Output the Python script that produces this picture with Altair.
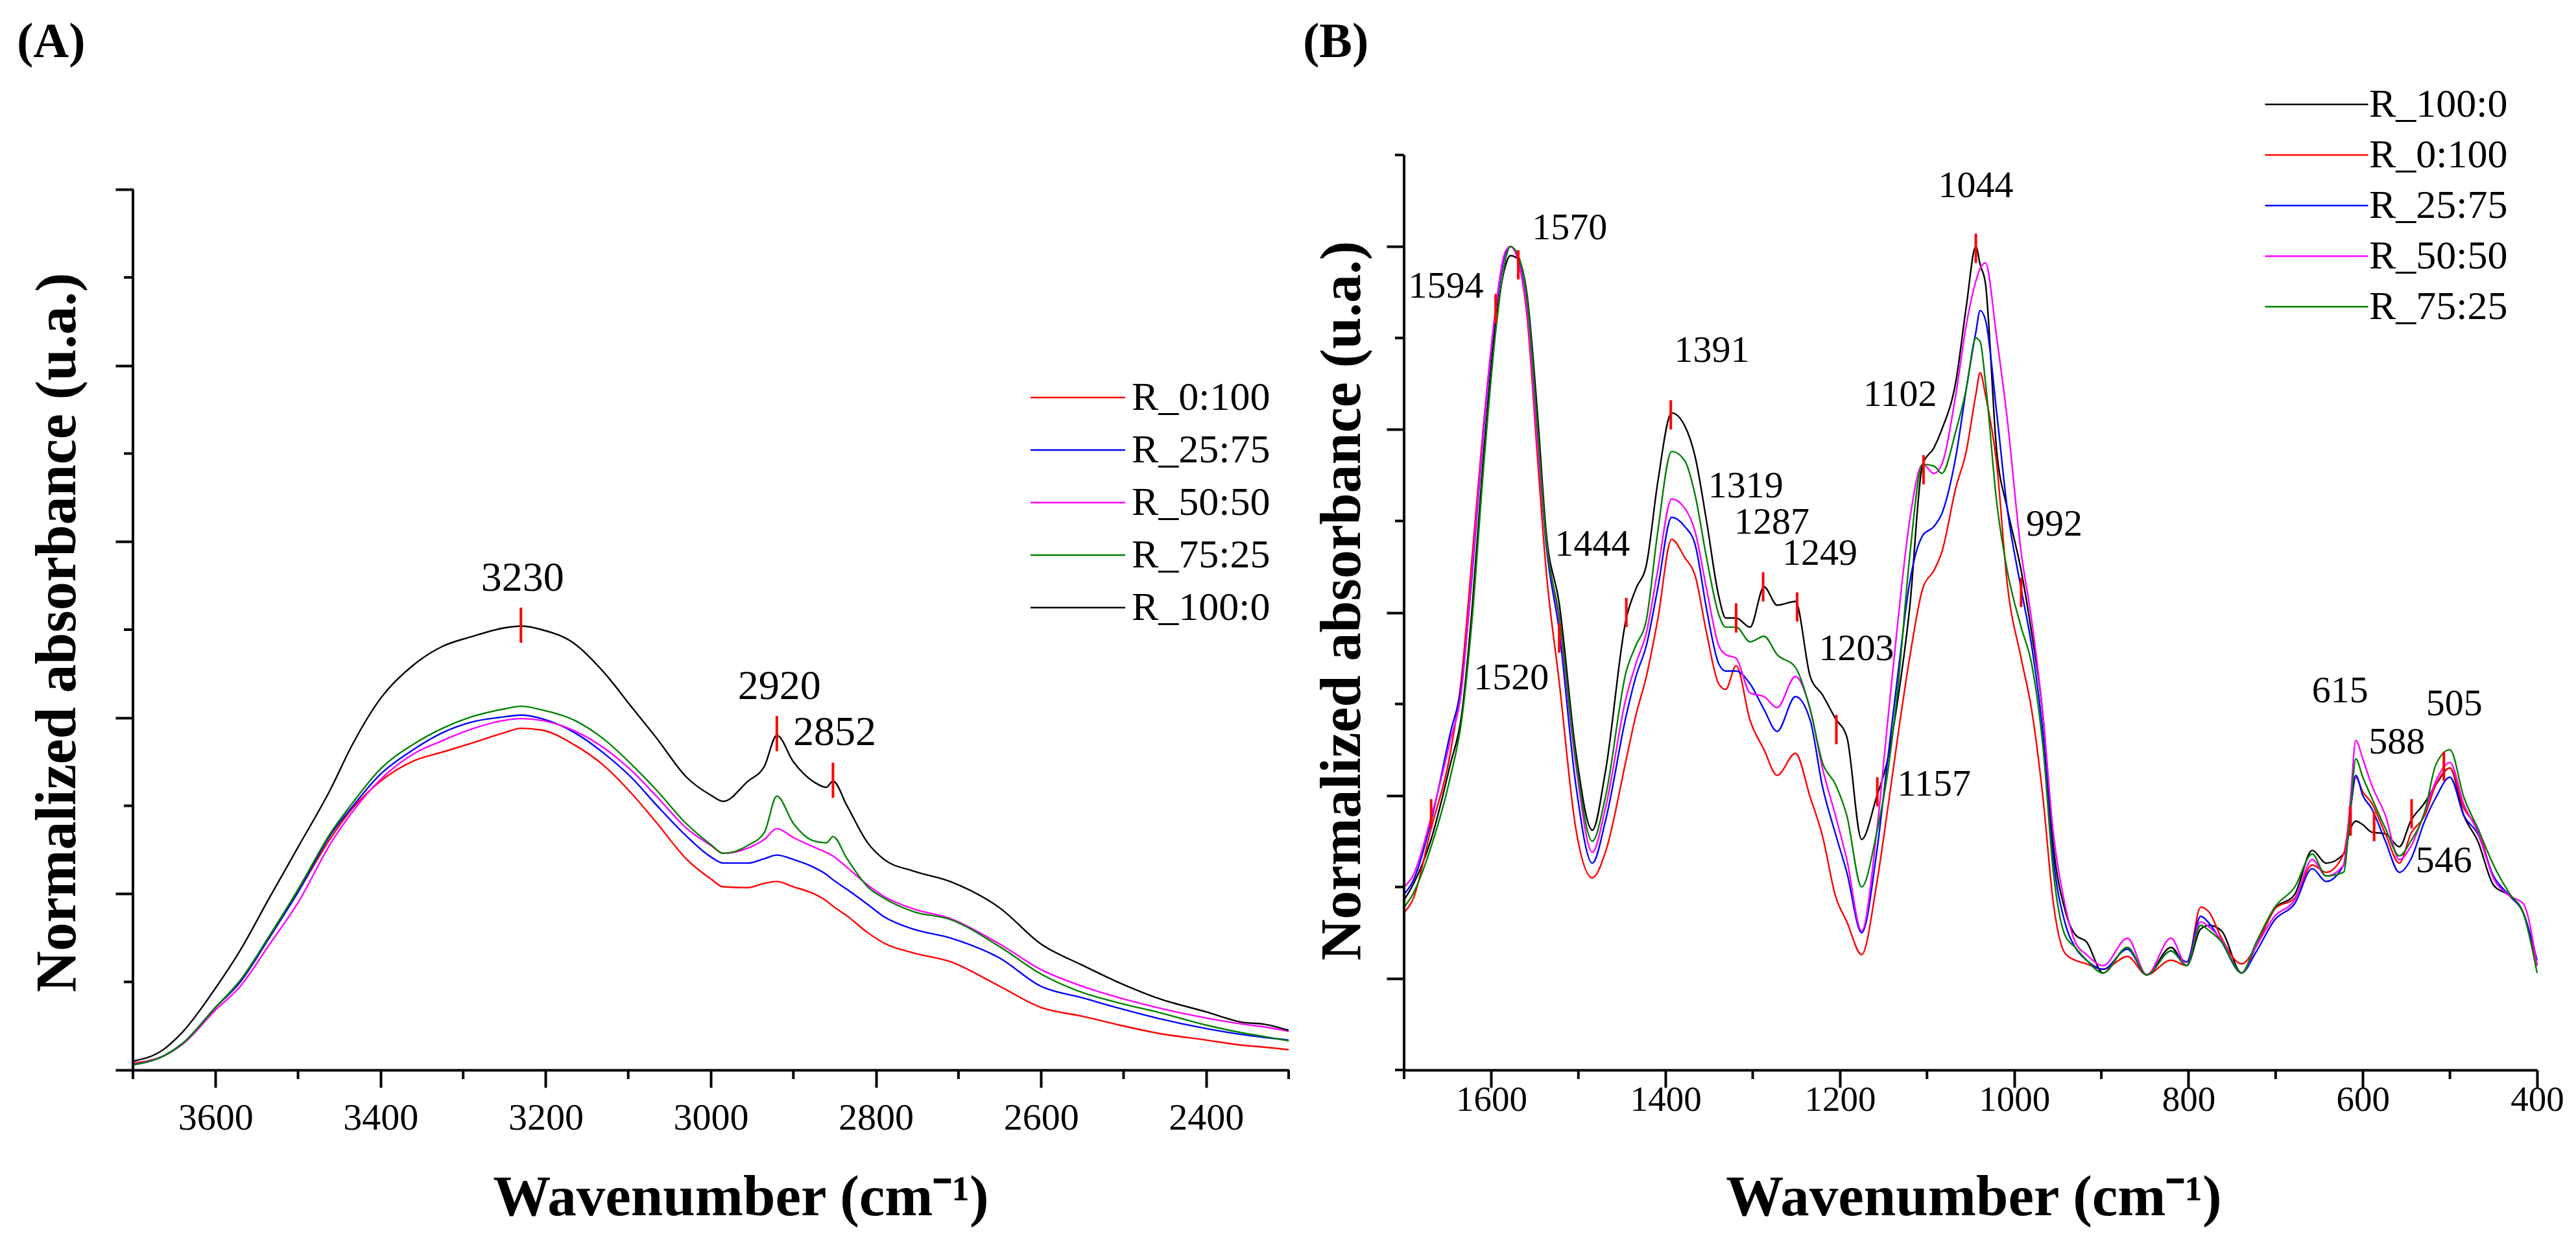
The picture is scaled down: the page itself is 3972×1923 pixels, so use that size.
import altair as alt
import pandas as pd

FONT = "Liberation Serif"

# ---------------- panel A : 3700-2300 cm-1 ----------------
wn_a = [3700, 3665, 3640, 3600, 3570, 3535, 3500, 3460, 3435, 3400,
        3360, 3325, 3290, 3250, 3230, 3205, 3165, 3130, 3095, 3065,
        3030, 3000, 2985, 2955, 2935, 2920, 2900, 2875, 2860, 2852,
        2835, 2810, 2790, 2755, 2710, 2650, 2600, 2550, 2505, 2460,
        2400, 2355, 2330, 2300]

a_0_100 = [0.08, 0.15, 0.30, 0.71, 1.00, 1.50, 2.02, 2.64, 2.96, 3.28,
           3.51, 3.61, 3.71, 3.83, 3.88, 3.86, 3.69, 3.46, 3.13, 2.80,
           2.40, 2.17, 2.08, 2.07, 2.12, 2.14, 2.08, 2.00, 1.92, 1.86,
           1.75, 1.56, 1.44, 1.33, 1.23, 0.95, 0.71, 0.61, 0.51, 0.42,
           0.34, 0.28, 0.26, 0.23]
a_25_75 = [0.06, 0.15, 0.30, 0.71, 1.00, 1.50, 2.02, 2.68, 2.98, 3.36,
           3.64, 3.83, 3.95, 4.01, 4.03, 3.99, 3.83, 3.60, 3.31, 3.00,
           2.66, 2.42, 2.35, 2.35, 2.40, 2.44, 2.39, 2.30, 2.22, 2.16,
           2.05, 1.88, 1.74, 1.60, 1.50, 1.27, 0.95, 0.82, 0.70, 0.59,
           0.47, 0.40, 0.37, 0.34]
a_50_50 = [0.07, 0.15, 0.29, 0.68, 0.95, 1.42, 1.90, 2.58, 2.92, 3.30,
           3.59, 3.74, 3.87, 3.97, 3.99, 3.97, 3.85, 3.66, 3.39, 3.10,
           2.75, 2.55, 2.46, 2.52, 2.62, 2.74, 2.64, 2.53, 2.47, 2.43,
           2.30, 2.10, 1.97, 1.83, 1.72, 1.43, 1.14, 0.95, 0.82, 0.71,
           0.59, 0.52, 0.49, 0.44]
a_75_25 = [0.06, 0.15, 0.30, 0.71, 1.02, 1.52, 2.05, 2.70, 3.02, 3.42,
           3.70, 3.88, 4.01, 4.10, 4.13, 4.09, 3.97, 3.76, 3.46, 3.17,
           2.80, 2.56, 2.46, 2.55, 2.70, 3.11, 2.80, 2.60, 2.58, 2.65,
           2.40, 2.08, 1.95, 1.80, 1.71, 1.40, 1.09, 0.88, 0.76, 0.66,
           0.51, 0.42, 0.38, 0.33]
a_100_0 = [0.10, 0.22, 0.43, 0.93, 1.36, 1.95, 2.53, 3.20, 3.68, 4.22,
           4.60, 4.81, 4.92, 5.02, 5.04, 5.00, 4.84, 4.52, 4.11, 3.76,
           3.33, 3.12, 3.05, 3.28, 3.45, 3.80, 3.50, 3.27, 3.21, 3.28,
           3.00, 2.58, 2.39, 2.26, 2.14, 1.84, 1.43, 1.19, 0.99, 0.82,
           0.66, 0.54, 0.52, 0.45]

peak_a_wn = [3230, 2920, 2852]
peak_a_y = [5.05, 3.82, 3.29]
label_a = ["3230", "2920", "2852"]
label_a_wn = [3228, 2917, 2850]
label_a_y = [5.58, 4.35, 3.83]

# ---------------- panel B : 1700-400 cm-1 ----------------
wn_b = [1700, 1690, 1669, 1647, 1634, 1622, 1609, 1595, 1584, 1578,
        1569, 1559, 1547, 1537, 1522, 1503, 1484, 1469, 1445, 1434,
        1422, 1409, 1393, 1378, 1366, 1353, 1339, 1331, 1319, 1303,
        1287, 1272, 1251, 1234, 1220, 1205, 1192, 1175, 1158, 1145,
        1133, 1120, 1105, 1092, 1083, 1067, 1055, 1044, 1039, 1033,
        1020, 1008, 992, 980, 967, 955, 942, 930, 917, 898,
        870, 848, 820, 802, 786, 776, 762, 739, 723, 701,
        678, 658, 642, 622, 614, 608, 600, 590, 574, 558,
        545, 529, 516, 500, 484, 468, 450, 431, 416, 400]

b_100_0 = [0.43, 0.51, 0.76, 1.17, 1.44, 2.02, 2.85, 3.57, 3.89, 3.95,
           3.93, 3.74, 3.09, 2.44, 2.05, 1.24, 0.81, 1.13, 1.97, 2.13,
           2.26, 2.71, 3.09, 3.02, 2.85, 2.50, 2.09, 1.97, 1.97, 1.92,
           2.14, 2.04, 2.06, 1.65, 1.55, 1.42, 1.32, 0.76, 0.99, 1.20,
           1.54, 2.02, 2.81, 2.90, 3.00, 3.26, 3.67, 4.00, 3.90, 3.80,
           2.88, 2.57, 2.23, 1.89, 1.44, 0.72, 0.38, 0.24, 0.20, 0.03,
           0.17, 0.02, 0.17, 0.07, 0.27, 0.29, 0.26, 0.03, 0.17, 0.38,
           0.46, 0.70, 0.63, 0.68, 0.82, 0.86, 0.84, 0.80, 0.79, 0.72,
           0.86, 0.96, 1.06, 1.15, 0.89, 0.75, 0.51, 0.45, 0.36, 0.07]
b_0_100 = [0.36, 0.43, 0.82, 1.23, 1.65, 2.30, 3.02, 3.64, 3.96, 4.00,
           3.92, 3.62, 2.85, 2.23, 1.62, 0.82, 0.55, 0.69, 1.20, 1.44,
           1.65, 1.96, 2.40, 2.30, 2.20, 1.89, 1.61, 1.58, 1.71, 1.41,
           1.25, 1.11, 1.23, 0.99, 0.78, 0.45, 0.31, 0.13, 0.51, 0.93,
           1.34, 1.75, 2.13, 2.23, 2.33, 2.68, 2.88, 3.19, 3.31, 3.19,
           2.81, 2.16, 1.75, 1.47, 0.99, 0.41, 0.14, 0.10, 0.08, 0.05,
           0.12, 0.02, 0.10, 0.07, 0.39, 0.36, 0.22, 0.08, 0.17, 0.38,
           0.44, 0.62, 0.58, 0.68, 0.93, 1.10, 1.02, 0.96, 0.79, 0.63,
           0.79, 0.89, 1.06, 1.15, 0.93, 0.82, 0.55, 0.45, 0.36, 0.07]
b_25_75 = [0.46, 0.53, 0.86, 1.34, 1.61, 2.20, 2.98, 3.64, 3.96, 4.00,
           3.93, 3.66, 2.95, 2.37, 1.90, 1.06, 0.63, 0.86, 1.44, 1.65,
           1.82, 2.13, 2.52, 2.47, 2.37, 2.02, 1.72, 1.68, 1.68, 1.61,
           1.47, 1.35, 1.54, 1.41, 1.05, 0.79, 0.58, 0.25, 0.68, 1.20,
           1.68, 2.16, 2.42, 2.47, 2.54, 2.85, 3.22, 3.53, 3.65, 3.60,
           3.09, 2.57, 2.13, 1.82, 1.34, 0.65, 0.31, 0.17, 0.10, 0.05,
           0.16, 0.02, 0.15, 0.09, 0.34, 0.30, 0.20, 0.03, 0.14, 0.32,
           0.41, 0.60, 0.53, 0.62, 0.93, 1.11, 1.00, 0.93, 0.75, 0.58,
           0.65, 0.86, 0.99, 1.10, 0.89, 0.79, 0.56, 0.45, 0.36, 0.10]
b_50_50 = [0.50, 0.56, 0.88, 1.30, 1.58, 2.23, 3.00, 3.66, 3.97, 4.00,
           3.92, 3.65, 2.92, 2.40, 1.95, 1.17, 0.69, 0.93, 1.54, 1.72,
           1.89, 2.23, 2.62, 2.57, 2.44, 2.13, 1.82, 1.77, 1.75, 1.56,
           1.54, 1.48, 1.65, 1.47, 1.15, 0.89, 0.65, 0.26, 0.79, 1.41,
           1.97, 2.50, 2.81, 2.76, 2.81, 3.19, 3.57, 3.81, 3.88, 3.91,
           3.50, 3.06, 2.33, 1.96, 1.44, 0.79, 0.41, 0.20, 0.13, 0.07,
           0.22, 0.02, 0.22, 0.07, 0.31, 0.28, 0.21, 0.03, 0.17, 0.34,
           0.43, 0.65, 0.56, 0.62, 0.99, 1.30, 1.20, 1.06, 0.89, 0.65,
           0.72, 0.91, 1.08, 1.18, 0.95, 0.80, 0.55, 0.45, 0.41, 0.07]
b_75_25 = [0.39, 0.46, 0.72, 1.10, 1.41, 1.96, 2.78, 3.53, 3.92, 4.00,
           3.95, 3.72, 3.02, 2.40, 1.98, 1.20, 0.75, 0.99, 1.68, 1.82,
           1.96, 2.44, 2.88, 2.83, 2.64, 2.30, 1.99, 1.92, 1.92, 1.84,
           1.87, 1.77, 1.70, 1.47, 1.18, 1.06, 0.89, 0.50, 0.79, 1.13,
           1.61, 2.30, 2.81, 2.80, 2.76, 2.99, 3.22, 3.50, 3.48, 3.26,
           2.60, 2.23, 1.92, 1.72, 1.27, 0.58, 0.24, 0.17, 0.10, 0.03,
           0.17, 0.02, 0.15, 0.07, 0.29, 0.26, 0.20, 0.03, 0.19, 0.39,
           0.50, 0.68, 0.56, 0.58, 0.93, 1.20, 1.10, 0.99, 0.82, 0.67,
           0.75, 0.91, 1.17, 1.25, 0.99, 0.82, 0.62, 0.46, 0.36, 0.03]

peak_b_wn = [1669, 1595, 1569, 1522, 1445, 1394, 1319, 1288, 1249,
             1204, 1157, 1104, 1044, 992, 614, 587, 544, 507]
peak_b_y = [0.90, 3.66, 3.90, 1.86, 2.00, 3.08, 1.97, 2.14, 2.03,
            1.36, 1.02, 2.78, 3.99, 2.11, 0.86, 0.83, 0.90, 1.16]
label_b = ["1594", "1570", "1520", "1444", "1391", "1319", "1287", "1249",
           "1203", "1157", "1102", "1044", "992", "615", "588", "546", "505"]
label_b_wn = [1652, 1510, 1577, 1484, 1347, 1308, 1278, 1223,
              1181, 1092, 1131, 1044, 954, 626, 561, 507, 495]
label_b_y = [3.78, 4.10, 1.64, 2.37, 3.43, 2.69, 2.49, 2.32,
             1.80, 1.06, 3.19, 4.33, 2.48, 1.57, 1.29, 0.64, 1.50]

COLORS = {"R_0:100": "#ff0000", "R_25:75": "#0000ff", "R_50:50": "#ff00ff",
          "R_75:25": "#008000", "R_100:0": "#000000"}


def long_df(wn, series):
    parts = [pd.DataFrame({"wn": wn, "y": vals, "series": name})
             for name, vals in series.items()]
    return pd.concat(parts, ignore_index=True)


def panel(df, order, x_dom, x_major, x_minor, y_dom, y_axis_span, y_major,
          y_minor, w, h, peaks, peak_half, labels, label_size, tag, tag_pos,
          x_opts, y_opts, leg_opts):
    xs = alt.Scale(domain=x_dom, nice=False, zero=False)
    ys = alt.Scale(domain=y_dom, nice=False, zero=False)

    x_axis = alt.Axis(values=x_major, format="d", grid=False, tickSize=27,
                      tickWidth=4, domainWidth=4, domainColor="black",
                      tickColor="black", labelColor="black", labelFont=FONT,
                      labelFlush=False, labelOverlap=False,
                      title="Wavenumber (cm⁻¹)", titleFont=FONT,
                      titleFontSize=89, titleFontWeight="bold",
                      titleColor="black", titleAlign="center",
                      titleBaseline="alphabetic", titleY=223, **x_opts)
    # y domain line is drawn as a rule so it can stop below the plot top
    y_axis = alt.Axis(values=y_major, labels=False, grid=False, tickSize=27,
                      tickWidth=4, domain=False, tickColor="black",
                      title="Normalized absorbance (u.a.)",
                      titleFont=FONT, titleFontSize=88, titleFontWeight="bold",
                      titleColor="black", titleAngle=270, titleAlign="center",
                      titleBaseline="middle", **y_opts)

    legend = alt.Legend(title=None, orient="none", direction="vertical",
                        symbolType="M-3,0H3", symbolStrokeWidth=2.5,
                        labelFont=FONT, labelFontSize=62, labelColor="black",
                        labelLimit=0, padding=0, **leg_opts)

    lines = alt.Chart(df).mark_line(strokeWidth=2.4, interpolate="monotone").encode(
        x=alt.X("wn:Q", scale=xs, axis=x_axis),
        y=alt.Y("y:Q", scale=ys, axis=y_axis),
        color=alt.Color("series:N", legend=legend,
                        scale=alt.Scale(domain=order,
                                        range=[COLORS[s] for s in order])),
        detail="series:N",
    )

    y_line = alt.Chart(pd.DataFrame({"y": [y_axis_span[0]], "yh": [y_axis_span[1]]})).mark_rule(
        color="black", strokeWidth=4).encode(
        x=alt.value(0), y=alt.Y("y:Q", scale=ys), y2="yh:Q")

    minor_x = alt.Chart(pd.DataFrame({"wn": x_minor})).mark_rule(
        color="black", strokeWidth=4).encode(
        x=alt.X("wn:Q", scale=xs), y=alt.value(h), y2=alt.value(h + 14))
    minor_y = alt.Chart(pd.DataFrame({"y": y_minor})).mark_rule(
        color="black", strokeWidth=4).encode(
        y=alt.Y("y:Q", scale=ys), x=alt.value(0), x2=alt.value(-14))

    pk = pd.DataFrame({"wn": peaks[0], "mid": peaks[1]})
    pk["y"] = pk["mid"] - peak_half
    pk["yh"] = pk["mid"] + peak_half
    marks = alt.Chart(pk).mark_rule(color="#ff0000", strokeWidth=4).encode(
        x=alt.X("wn:Q", scale=xs), y=alt.Y("y:Q", scale=ys), y2="yh:Q")

    lb = pd.DataFrame({"t": labels[0], "wn": labels[1], "y": labels[2]})
    texts = alt.Chart(lb).mark_text(font=FONT, fontSize=label_size,
                                    color="black", baseline="middle").encode(
        x=alt.X("wn:Q", scale=xs), y=alt.Y("y:Q", scale=ys), text="t:N")

    tag_mark = alt.Chart(pd.DataFrame({"t": [tag]})).mark_text(
        font=FONT, fontSize=76, fontWeight="bold", color="black",
        align="left", baseline="alphabetic").encode(
        text="t:N", x=alt.value(tag_pos[0]), y=alt.value(tag_pos[1]))

    return alt.layer(lines, y_line, minor_x, minor_y, marks, texts,
                     tag_mark).properties(width=w, height=h)


df_a = long_df(wn_a, {"R_0:100": a_0_100, "R_25:75": a_25_75, "R_50:50": a_50_50,
                      "R_75:25": a_75_25, "R_100:0": a_100_0})
df_b = long_df(wn_b, {"R_100:0": b_100_0, "R_0:100": b_0_100, "R_25:75": b_25_75,
                      "R_50:50": b_50_50, "R_75:25": b_75_25})

# panel A is drawn 53 px taller than its axis so both plots share a top edge
chart_a = panel(
    df_a, ["R_0:100", "R_25:75", "R_50:50", "R_75:25", "R_100:0"],
    [3700, 2300], list(range(3600, 2399, -200)), list(range(3700, 2299, -200)),
    [0, 10.39], [0, 10], [0, 2, 4, 6, 8, 10], [1, 3, 5, 7, 9],
    1782, 1411, (peak_a_wn, peak_a_y), 0.2,
    (label_a, label_a_wn, label_a_y), 64, "(A)", (-179, -151),
    dict(labelFontSize=58, labelPadding=18, titleX=937),
    dict(titleX=-116, titleY=736),
    dict(legendX=1426, legendY=343, symbolSize=2368, labelOffset=52, rowPadding=19),
)

chart_b = panel(
    df_b, ["R_100:0", "R_0:100", "R_25:75", "R_50:50", "R_75:25"],
    [1700, 400], list(range(1600, 399, -200)), list(range(1700, 499, -200)),
    [-0.5, 4.5], [-0.5, 4.5], [0, 1, 2, 3, 4], [-0.5, 0.5, 1.5, 2.5, 3.5, 4.5],
    1747, 1411, (peak_b_wn, peak_b_y), 0.08,
    (label_b, label_b_wn, label_b_y), 58, "(B)", (-156, -151),
    dict(labelFontSize=55, labelPadding=-8, titleX=878),
    dict(titleX=-95, titleY=687),
    dict(legendX=1376, legendY=-109, symbolSize=2809, labelOffset=50, rowPadding=16),
)

chart = (
    alt.hconcat(chart_a, chart_b, spacing=17)
    .resolve_scale(color="independent", x="independent", y="independent")
    .resolve_legend(color="independent")
    .configure_view(stroke=None)
    .properties(padding={"left": 18, "top": 19, "right": 10, "bottom": 10},
                background="white")
)

chart.save("out.html", embed_options={"renderer": "svg", "actions": False})
